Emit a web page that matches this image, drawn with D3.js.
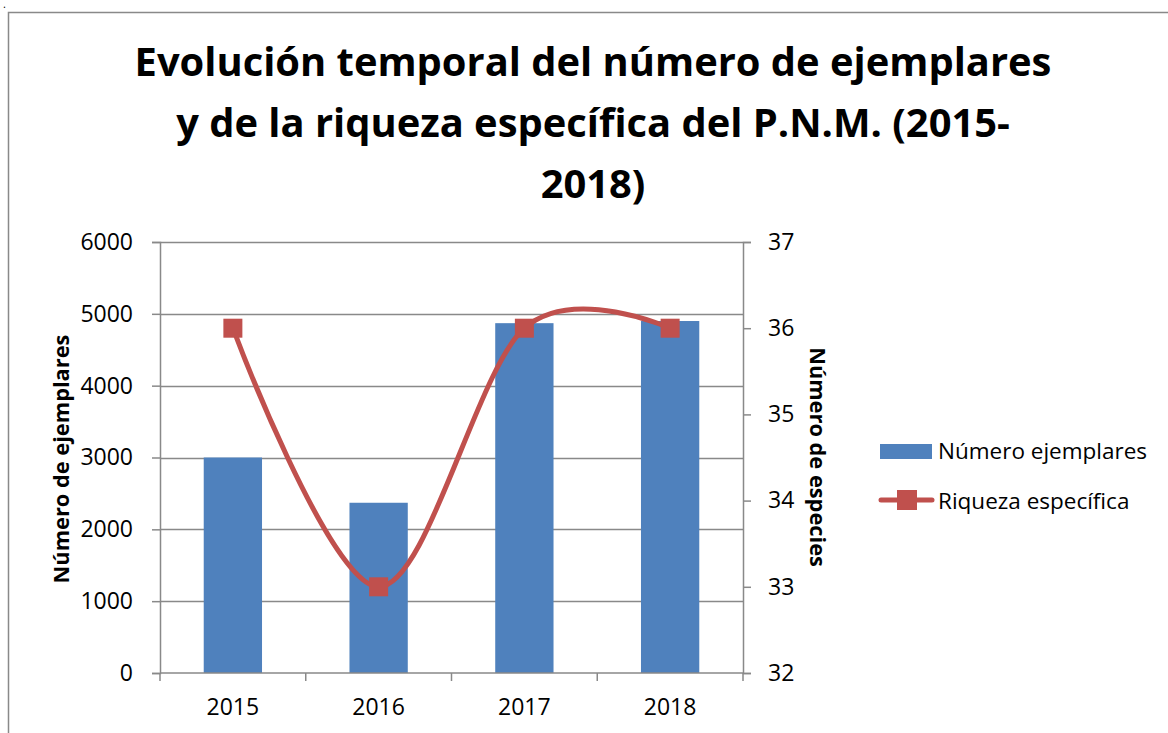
<!DOCTYPE html>
<html>
<head>
<meta charset="utf-8">
<script src="https://cdn.jsdelivr.net/npm/d3@7"></script>
<style>
  body { margin: 0; background: #fff; }
  svg { display: block; font-family: "Open Sans", sans-serif; }
</style>
</head>
<body>
<svg id="chart"></svg>
<script>
const years = ['2015', '2016', '2017', '2018'];
const ejemplares = [3000, 2370, 4870, 4900];
const riqueza = [36, 33, 36, 36];
const leftTicks = [0, 1000, 2000, 3000, 4000, 5000, 6000];
const rightTicks = [32, 33, 34, 35, 36, 37];
const titleLines = [
  'Evolución temporal del número de ejemplares',
  'y de la riqueza específica del P.N.M. (2015-',
  '2018)'
];

const width = 1168;
const height = 733;
const plot = { left: 160, right: 743, top: 242, bottom: 673 };
const blue = '#4f81bd';
const red = '#c0504d';
const grey = '#898989';
const tickFont = 23;

const svg = d3.select('#chart')
  .attr('width', width)
  .attr('height', height);

// chart area border (runs off to the right / bottom)
svg.append('path')
  .attr('d', `M8.5,${height} V12.5 H${width}`)
  .attr('fill', 'none')
  .attr('stroke', grey)
  .attr('stroke-width', 1.5);

svg.append('text').text('.')
  .attr('x', 3).attr('y', 8)
  .attr('font-size', 11);

// title
const titleBase = [76, 137, 198];
const titleG = svg.append('g');
const titleEls = titleLines.map((t, i) => titleG.append('text')
  .text(t)
  .attr('x', 593)
  .attr('y', titleBase[i])
  .attr('text-anchor', 'middle')
  .attr('font-weight', 'bold')
  .attr('font-size', 40));
// scale so the first line spans the same width as the original
const w0 = titleEls[0].node().getComputedTextLength();
titleEls.forEach(el => el.attr('font-size', 40 * 917 / w0));

const x = d3.scaleBand()
  .domain(years)
  .range([plot.left, plot.right])
  .paddingInner(0.6)
  .paddingOuter(0.3);

const yLeft = d3.scaleLinear().domain([0, 6000]).range([plot.bottom, plot.top]);
const yRight = d3.scaleLinear().domain([32, 37]).range([plot.bottom, plot.top]);

// gridlines
svg.append('g')
  .selectAll('line')
  .data(leftTicks.slice(1))
  .enter()
  .append('line')
  .attr('x1', plot.left)
  .attr('x2', plot.right)
  .attr('y1', d => Math.round(yLeft(d)) + 0.5)
  .attr('y2', d => Math.round(yLeft(d)) + 0.5)
  .attr('stroke', grey)
  .attr('stroke-width', 1.3);

// bars
svg.append('g')
  .selectAll('rect')
  .data(ejemplares)
  .enter()
  .append('rect')
  .attr('x', (d, i) => x(years[i]))
  .attr('width', x.bandwidth())
  .attr('y', d => yLeft(d))
  .attr('height', d => plot.bottom - yLeft(d))
  .attr('fill', blue);

// axes
const axisLeft = svg.append('g')
  .attr('transform', `translate(${plot.left},0)`)
  .call(d3.axisLeft(yLeft).tickValues(leftTicks).tickFormat(d3.format('d'))
    .tickSize(8).tickPadding(19));

const axisRight = svg.append('g')
  .attr('transform', `translate(${plot.right},0)`)
  .call(d3.axisRight(yRight).tickValues(rightTicks).tickFormat(d3.format('d'))
    .tickSize(8).tickPadding(17));

const bandStep = x.step();
const catEdges = d3.range(years.length + 1).map(i => plot.left + i * bandStep);
const axisBottom = svg.append('g')
  .attr('transform', `translate(0,${plot.bottom})`);
axisBottom.append('line')
  .attr('x1', plot.left).attr('x2', plot.right)
  .attr('stroke', grey).attr('stroke-width', 1.5);
axisBottom.selectAll('line.tick')
  .data(catEdges)
  .enter()
  .append('line')
  .attr('class', 'tick')
  .attr('x1', d => d).attr('x2', d => d)
  .attr('y1', 0).attr('y2', 8)
  .attr('stroke', grey).attr('stroke-width', 1.5);
axisBottom.selectAll('text')
  .data(years)
  .enter()
  .append('text')
  .text(d => d)
  .attr('x', d => x(d) + x.bandwidth() / 2)
  .attr('y', 42)
  .attr('text-anchor', 'middle')
  .attr('font-size', tickFont)
  .attr('fill', '#000');

[axisLeft, axisRight].forEach(a => {
  a.select('.domain').attr('stroke', grey).attr('stroke-width', 1.5);
  a.selectAll('.tick line').attr('stroke', grey).attr('stroke-width', 1.5);
  a.selectAll('.tick text')
    .attr('font-size', tickFont)
    .attr('font-family', '"Open Sans", sans-serif')
    .attr('fill', '#000');
});

// smoothed line
const line = d3.line()
  .x((d, i) => x(years[i]) + x.bandwidth() / 2)
  .y(d => yRight(d))
  .curve(d3.curveCatmullRom.alpha(0));

svg.append('path')
  .datum(riqueza)
  .attr('d', line)
  .attr('fill', 'none')
  .attr('stroke', red)
  .attr('stroke-width', 5);

const msize = 19;
svg.append('g')
  .selectAll('rect')
  .data(riqueza)
  .enter()
  .append('rect')
  .attr('x', (d, i) => x(years[i]) + x.bandwidth() / 2 - msize / 2)
  .attr('y', d => yRight(d) - msize / 2)
  .attr('width', msize)
  .attr('height', msize)
  .attr('fill', red);

// axis titles
svg.append('text')
  .text('Número de ejemplares')
  .attr('transform', 'translate(69,459) rotate(-90)')
  .attr('text-anchor', 'middle')
  .attr('font-weight', 'bold')
  .attr('font-size', 21.8);

svg.append('text')
  .text('Número de especies')
  .attr('transform', 'translate(810,457) rotate(90)')
  .attr('text-anchor', 'middle')
  .attr('font-weight', 'bold')
  .attr('font-size', 21.8);

// legend
const legend = svg.append('g');
legend.append('rect')
  .attr('x', 880).attr('y', 444)
  .attr('width', 52).attr('height', 15)
  .attr('fill', blue);
legend.append('text')
  .text('Número ejemplares')
  .attr('x', 938).attr('y', 459)
  .attr('font-size', 22.5);
legend.append('line')
  .attr('x1', 881).attr('x2', 932)
  .attr('y1', 500).attr('y2', 500)
  .attr('stroke', red).attr('stroke-width', 5)
  .attr('stroke-linecap', 'round');
legend.append('rect')
  .attr('x', 897).attr('y', 490)
  .attr('width', 20).attr('height', 20)
  .attr('fill', red);
legend.append('text')
  .text('Riqueza específica')
  .attr('x', 938).attr('y', 509)
  .attr('font-size', 22.5);
</script>
</body>
</html>
